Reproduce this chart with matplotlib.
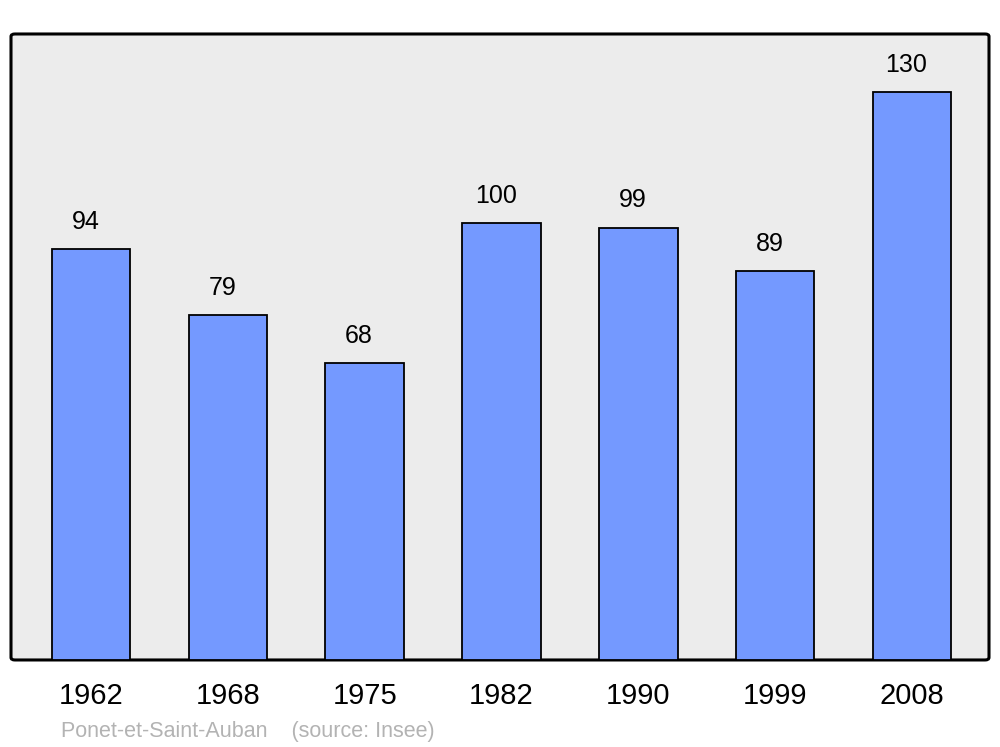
import matplotlib
matplotlib.use("Agg")
import matplotlib.pyplot as plt
from matplotlib.patches import FancyBboxPatch

years = ["1962", "1968", "1975", "1982", "1990", "1999", "2008"]
population = [94, 79, 68, 100, 99, 89, 130]

plt.rcParams["font.family"] = ["Liberation Sans", "DejaVu Sans"]

fig = plt.figure(figsize=(10, 7.47), dpi=100)
ax = fig.add_axes([0.011, 0.1165, 0.978, 0.838])
ax.set_facecolor("none")

# rounded frame behind the bars
frame = FancyBboxPatch((0, 0), 1, 1,
                       boxstyle="round,pad=0,rounding_size=0.004",
                       transform=ax.transAxes, facecolor="#ececec",
                       edgecolor="black", linewidth=2.2, zorder=0,
                       clip_on=False)
ax.add_patch(frame)

x = list(range(len(years)))
bars = ax.bar(x, population, width=0.575, color="#7499ff",
              edgecolor="black", linewidth=1.3, zorder=2)

for xi, v in zip(x, population):
    ax.annotate(str(v), (xi, v), xytext=(-4, 11), textcoords="offset points",
                ha="center", va="bottom", fontsize=18)

ax.set_xlim(-0.585, len(years) - 1 + 0.563)
ax.set_ylim(0, 143.3)
ax.set_yticks([])
ax.set_xticks(x)
ax.set_xticklabels(years, fontsize=21)
ax.tick_params(axis="x", length=0, pad=16)
for s in ax.spines.values():
    s.set_visible(False)

fig.text(0.061, 0.013, "Ponet-et-Saint-Auban    (source: Insee)",
         fontsize=15.5, color="#b3b3b3", ha="left", va="baseline")

fig.savefig("out.png", dpi=100)
